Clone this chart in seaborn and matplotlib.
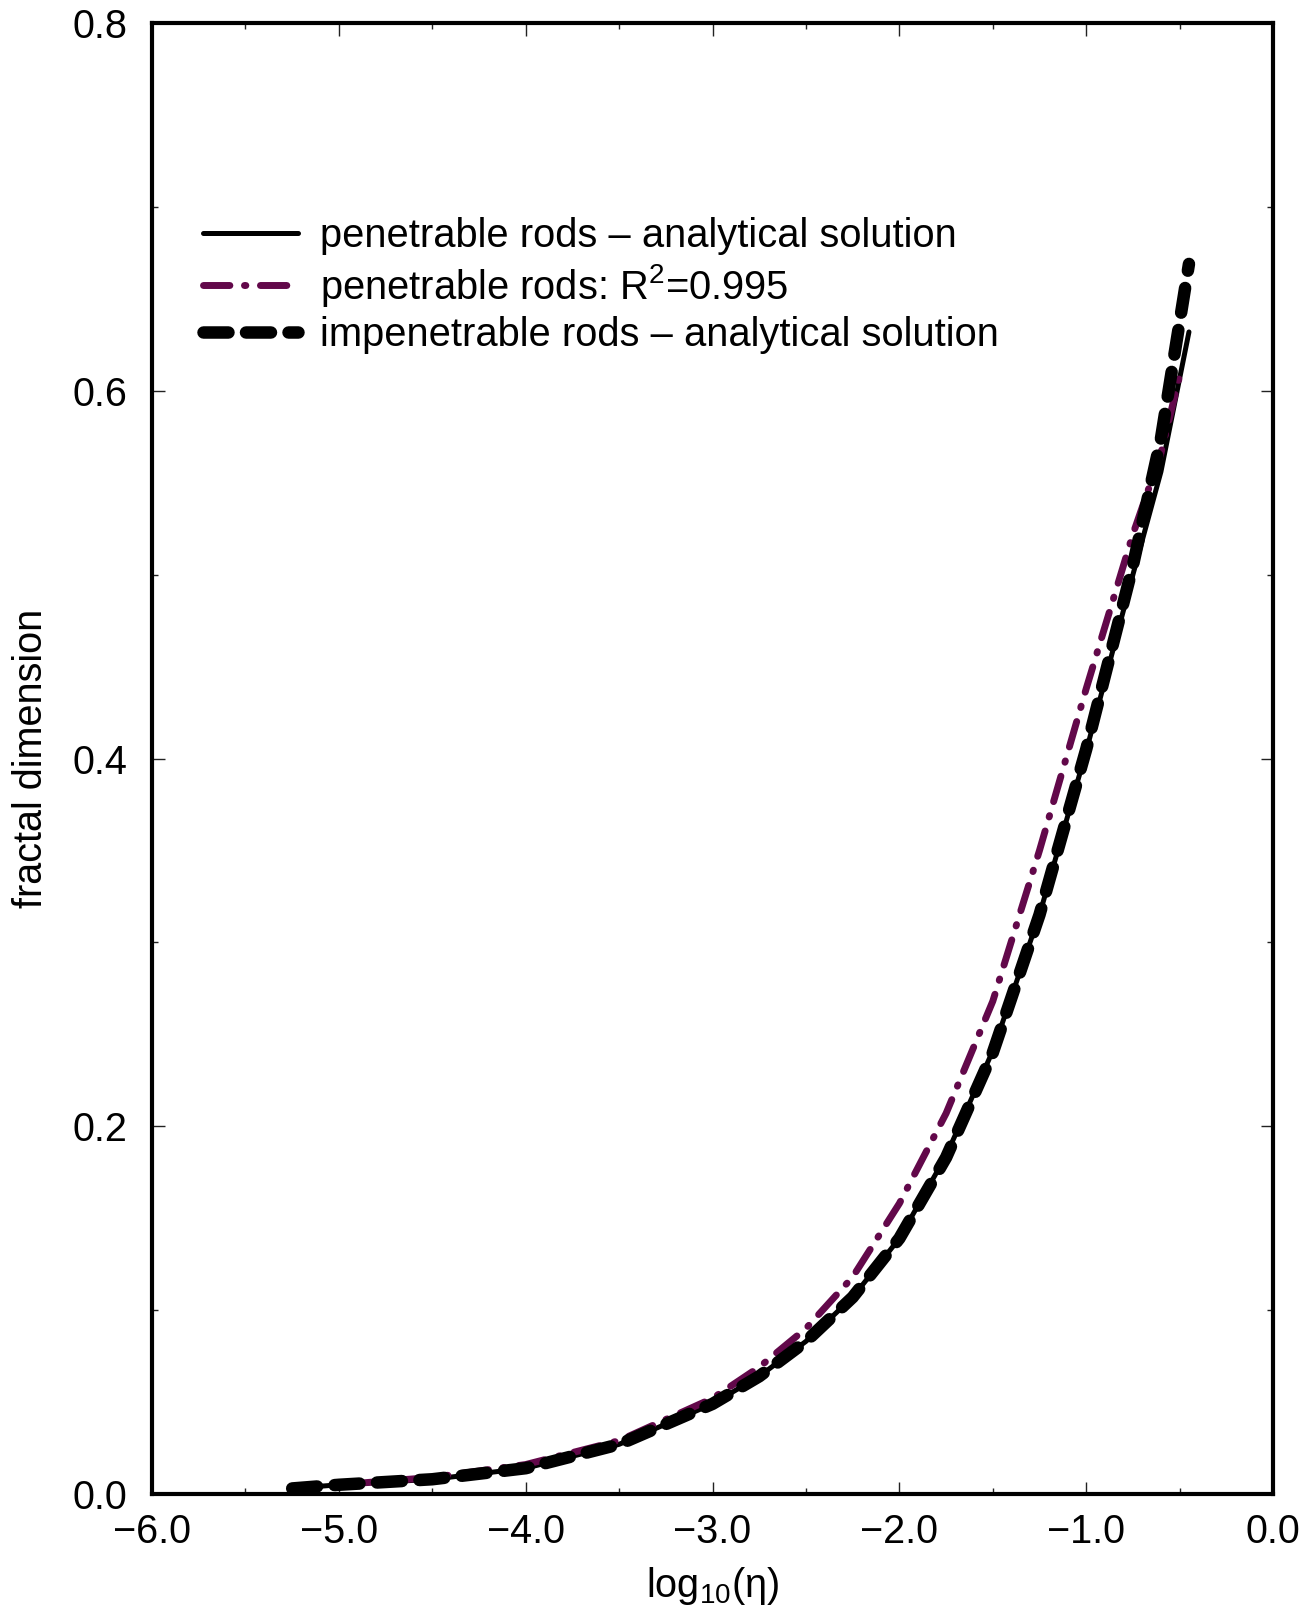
"""Fractal dimension vs log10(eta) for penetrable and impenetrable rods."""

import matplotlib
matplotlib.use("Agg")
import matplotlib.pyplot as plt
import seaborn as sns

# values
log_eta = [-5.25, -5.0, -4.5, -4.0, -3.5, -3.0, -2.75, -2.5, -2.25,
           -2.0, -1.75, -1.5, -1.25, -1.0, -0.75, -0.6, -0.45]
pen_analytic = [0.003, 0.005, 0.008, 0.014, 0.027, 0.049, 0.064, 0.083, 0.107,
                0.139, 0.184, 0.241, 0.315, 0.404, 0.500, 0.556, 0.632]
imp_analytic = [0.003, 0.005, 0.008, 0.014, 0.027, 0.049, 0.064, 0.083, 0.107,
                0.139, 0.183, 0.240, 0.315, 0.405, 0.505, 0.574, 0.669]

log_eta_fit = [-5.25, -5.0, -4.5, -4.0, -3.5, -3.0, -2.75, -2.5, -2.25,
               -2.0, -1.75, -1.5, -1.25, -1.0, -0.75, -0.6, -0.5]
pen_fit = [0.003, 0.005, 0.009, 0.016, 0.029, 0.052, 0.069, 0.090, 0.118,
           0.158, 0.207, 0.268, 0.350, 0.438, 0.522, 0.566, 0.608]

labels = ["penetrable rods \u2013 analytical solution",
          "penetrable rods: R$^2$=0.995",
          "impenetrable rods \u2013 analytical solution"]
x_ticks = [-6.0, -5.0, -4.0, -3.0, -2.0, -1.0, 0.0]
y_ticks = [0.0, 0.2, 0.4, 0.6, 0.8]

sns.set_theme(style="ticks")
plt.rcParams["font.family"] = ["Liberation Sans", "DejaVu Sans"]
plt.rcParams["mathtext.default"] = "regular"
for key in ["text.color", "axes.labelcolor", "xtick.color", "ytick.color"]:
    plt.rcParams[key] = "black"

fig = plt.figure(figsize=(13.12, 16.13), dpi=100)
ax = fig.add_axes([0.1159, 0.0738, 0.8544, 0.9119])

purple = "#62084a"

sns.lineplot(x=log_eta, y=pen_analytic, ax=ax, color="black", linewidth=3.6,
             sort=False, estimator=None, label=labels[0],
             solid_capstyle="round")
sns.lineplot(x=log_eta_fit, y=pen_fit, ax=ax, color=purple, linewidth=5,
             sort=False, estimator=None, label=labels[1],
             linestyle=(0, (3.8, 2.1, 0.2, 2.1)), dash_capstyle="round")
sns.lineplot(x=log_eta, y=imp_analytic, ax=ax, color="black", linewidth=9,
             sort=False, estimator=None, label=labels[2],
             linestyle=(0, (2.0, 1.4)), dash_capstyle="round")

ax.set_xlim(-6, 0)
ax.set_ylim(0, 0.8)
ax.set_xticks(x_ticks)
ax.set_yticks(y_ticks)
ax.set_xticklabels([f"{v:.1f}".replace("-", "\u2212") for v in x_ticks])
ax.set_yticklabels([f"{v:.1f}" for v in y_ticks])
ax.set_xticks([-5.5, -4.5, -3.5, -2.5, -1.5, -0.5], minor=True)
ax.set_yticks([0.1, 0.3, 0.5, 0.7], minor=True)

ax.tick_params(which="both", direction="in", top=True, right=True,
               labelsize=28.5, width=1.0, color="#222222")
ax.tick_params(which="major", length=9)
ax.tick_params(which="minor", length=4)
ax.tick_params(axis="x", pad=14)
ax.tick_params(axis="y", pad=18)

for sp in ax.spines.values():
    sp.set_linewidth(3)
    sp.set_color("black")

ax.set_xlabel("log$_{10}$(\u03b7)", fontsize=28.5, labelpad=10)
ax.set_ylabel("fractal dimension", fontsize=28.5, labelpad=16)

ax.legend(loc="upper left", bbox_to_anchor=(0.045, 0.868), frameon=False,
          fontsize=28.7, handlelength=2.4, handletextpad=0.55,
          labelspacing=0.17, borderpad=0, borderaxespad=0)

fig.savefig("out.png", dpi=100)
